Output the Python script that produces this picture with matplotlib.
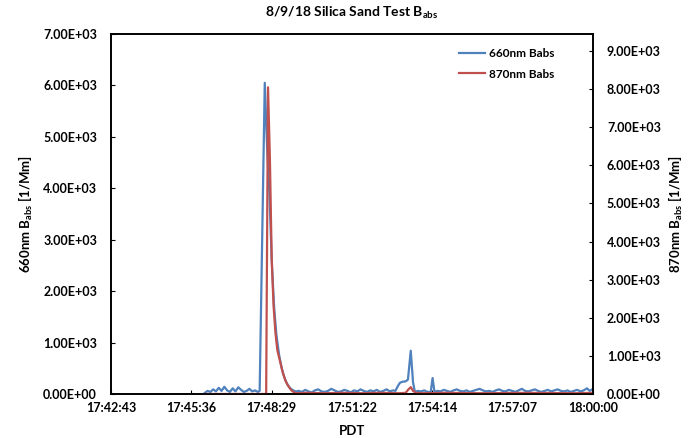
import matplotlib.pyplot as plt
from matplotlib.ticker import FuncFormatter, FormatStrFormatter

plt.rcParams['font.family'] = 'Lato'
plt.rcParams['font.weight'] = 'bold'
plt.rcParams['mathtext.fontset'] = 'custom'
plt.rcParams['mathtext.rm'] = 'Lato:bold'
plt.rcParams['mathtext.it'] = 'Lato:bold'
plt.rcParams['mathtext.bf'] = 'Lato:bold'

# time in seconds after 17:42:43
t0 = 17 * 3600 + 42 * 60 + 43

t660 = [202, 208, 214, 220, 226, 232, 238, 244, 250, 256, 262, 268, 274, 280,
        286, 292, 298, 304, 310, 316, 320, 331, 336, 341, 346, 351, 356,
        362, 368, 374, 380, 386, 392, 398,
        404, 411, 418, 425, 432, 439, 446, 453, 460, 467, 474, 481, 488, 495,
        502, 509, 516, 523, 530, 537, 544, 551, 558, 565, 572, 579, 586, 593,
        600, 607, 612, 617, 622, 628, 634, 639, 645, 650, 654, 660, 667, 674,
        681, 688, 692, 696, 702,
        709, 716, 723, 730, 737, 744, 751, 758, 765, 772, 779, 786, 793, 800,
        807, 814, 821, 828, 835, 842, 849, 856, 863, 870, 877, 884, 891, 898,
        905, 912, 919, 926, 933, 940, 947, 954, 961, 968, 975, 982, 989, 996,
        1003, 1010, 1017, 1024, 1030, 1037]
b660 = [20, 60, 40, 90, 50, 120, 60, 140, 70, 40, 110, 50, 130, 80,
        40, 60, 100, 50, 70, 40, 60, 6050, 4800, 3900, 2600, 1700, 1150,
        750, 480, 300, 180, 110, 70, 50,
        60, 40, 80, 50, 30, 70, 90, 50, 40, 60, 100, 70, 40, 50,
        80, 60, 30, 70, 50, 90, 60, 40, 70, 50, 80, 40, 60, 90,
        50, 70, 60, 150, 220, 240, 245, 280, 840, 220, 40, 60, 50, 70,
        40, 40, 310, 40, 60,
        50, 80, 60, 40, 70, 90, 60, 50, 70, 40, 60, 80, 100, 70,
        50, 60, 40, 70, 90, 60, 50, 80, 60, 40, 70, 100, 60, 50,
        70, 90, 60, 40, 60, 80, 50, 70, 90, 60, 50, 70, 40, 60,
        80, 50, 70, 110, 60, 100]

t870 = [202, 334, 338, 342, 346, 350, 354, 358, 364, 370, 376, 382, 388, 394,
        400, 420, 460, 500, 540, 580, 620, 634, 640, 645, 650, 656, 670, 720,
        800, 900, 1000, 1037]
b870 = [0, 0, 8050, 6200, 3500, 2300, 1600, 1150, 850, 550, 330, 200, 100, 40,
        20, 30, 20, 30, 20, 30, 20, 30, 120, 180, 80, 30, 20, 30,
        20, 30, 20, 30]

x660 = [t0 + t for t in t660]
x870 = [t0 + t for t in t870]

fig = plt.figure(figsize=(6.88, 4.38), dpi=100)
ax = fig.add_axes([0.1613, 0.1005, 0.7006, 0.822])
ax2 = ax.twinx()

l1, = ax.plot(x660, b660, color='#4F81BD', lw=1.6, label='660nm Babs')
l2, = ax2.plot(x870, b870, color='#C0504D', lw=1.6, label='870nm Babs')

xmin = 0.738 * 86400
xmax = 0.75 * 86400
ax.set_xlim(xmin, xmax)
ax.set_xticks([xmin + i * 172.8 for i in range(7)])


def hms(v, pos):
    s = int(round(v))
    return '%d:%02d:%02d' % (s // 3600, (s % 3600) // 60, s % 60)


ax.xaxis.set_major_formatter(FuncFormatter(hms))

ax.set_ylim(0, 7000)
ax.set_yticks(range(0, 7001, 1000))
ax.yaxis.set_major_formatter(FormatStrFormatter('%.2E'))
ax2.set_ylim(0, 9450)
ax2.set_yticks(range(0, 9001, 1000))
ax2.yaxis.set_major_formatter(FormatStrFormatter('%.2E'))

for a in (ax, ax2):
    a.tick_params(direction='in', length=3, labelsize=9, color='black')
    for s in a.spines.values():
        s.set_linewidth(1.2)
ax.tick_params(axis='x', pad=6)
ax.tick_params(axis='y', pad=10)
ax2.tick_params(axis='y', pad=10)

ax.set_title('8/9/18 Silica Sand Test B$_{abs}$', fontsize=10, fontweight='bold', pad=12)
ax.set_xlabel('PDT', fontsize=9.5, fontweight='bold', labelpad=8)
ax.set_ylabel('660nm B$_{abs}$ [1/Mm]', fontsize=9.5, fontweight='bold', labelpad=6)
ax2.set_ylabel('870nm B$_{abs}$ [1/Mm]', fontsize=9.5, fontweight='bold',
               rotation=90, labelpad=4)

ax.legend(handles=[l1, l2], loc='upper left', bbox_to_anchor=(0.7, 0.99),
          frameon=False, fontsize=8.5, handlelength=2.2, handletextpad=0.3,
          labelspacing=0.8)

fig.savefig('out.png', dpi=100)
